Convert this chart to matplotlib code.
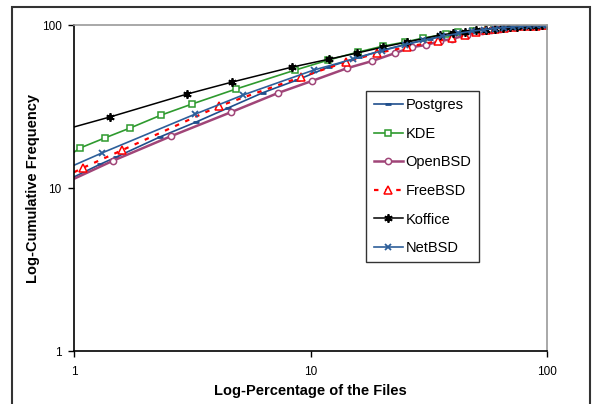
import matplotlib.pyplot as plt
from matplotlib.patches import Rectangle

plt.rcParams['font.family'] = ['Liberation Sans', 'DejaVu Sans']

# cumulative frequency (%) against percentage of files, per project
postgres_x = [1, 1.29, 1.51, 2.31, 3.28, 4.48, 6.3, 8.77, 12.0, 16.0, 20.5, 26.0, 32.0, 38.0, 44.0, 50.0, 56.0, 62.0, 68.0, 74.0, 80.0, 86.0, 92.0, 100]
postgres_y = [11.7, 14.0, 15.5, 20.6, 25.4, 31.0, 38.5, 46.0, 55.5, 63.5, 70.5, 77.0, 82.5, 86.5, 89.8, 92.3, 94.2, 95.7, 96.9, 97.8, 98.6, 99.2, 99.6, 100]

kde_x = [1, 1.06, 1.35, 1.72, 2.33, 3.16, 4.84, 8.6, 11.9, 15.9, 20.3, 25.1, 29.9, 37.4, 42.0, 48.7, 56.3, 62.0, 68.0, 74.0, 80.0, 86.0, 92.0, 100]
kde_y = [16.6, 17.6, 20.3, 23.3, 28.0, 32.8, 40.5, 52.9, 61.0, 68.3, 74.3, 78.7, 83.2, 88.1, 90.6, 91.9, 95.8, 96.8, 97.6, 98.3, 98.9, 99.3, 99.7, 100]

openbsd_x = [1, 1.46, 2.57, 4.61, 7.29, 10.1, 14.3, 18.2, 22.8, 26.9, 30.8, 35.3, 39.6, 45.9, 53.1, 58.0, 63.0, 68.0, 73.0, 78.0, 84.0, 90.0, 95.0, 100]
openbsd_y = [11.4, 14.7, 20.8, 29.2, 38.3, 45.3, 54.4, 60.1, 67.3, 73.3, 75.4, 79.8, 82.1, 86.9, 91.9, 93.5, 95.0, 96.2, 97.2, 98.0, 98.8, 99.3, 99.7, 100]

freebsd_x = [1, 1.09, 1.60, 4.10, 9.12, 14.1, 19.1, 25.6, 34.6, 39.6, 45.0, 50.0, 55.0, 60.0, 66.0, 72.0, 78.0, 84.0, 90.0, 95.0, 100]
freebsd_y = [12.5, 13.3, 17.1, 31.8, 48.0, 59.3, 67.3, 73.3, 79.8, 83.2, 87.5, 90.5, 92.8, 94.6, 96.0, 97.2, 98.1, 98.8, 99.3, 99.7, 100]

koffice_x = [1, 1.42, 3.0, 4.66, 8.35, 12.0, 15.7, 20.3, 25.6, 35.3, 40.0, 45.0, 50.0, 55.0, 60.0, 65.0, 70.0, 75.0, 80.0, 85.0, 90.0, 95.0, 100]
koffice_y = [23.7, 27.3, 37.7, 44.7, 55.2, 61.8, 67.3, 73.3, 78.7, 86.9, 89.0, 91.0, 92.6, 93.9, 95.0, 96.0, 96.8, 97.5, 98.2, 98.8, 99.3, 99.7, 100]

netbsd_x = [1, 1.31, 3.25, 5.18, 10.3, 15.1, 20.0, 25.0, 30.0, 36.0, 42.0, 48.0, 54.0, 60.0, 66.0, 72.0, 78.0, 84.0, 90.0, 95.0, 100]
netbsd_y = [13.8, 16.4, 28.4, 37.2, 52.9, 61.8, 69.5, 75.5, 80.5, 85.2, 88.8, 91.6, 93.6, 95.2, 96.5, 97.5, 98.3, 98.9, 99.4, 99.7, 100]

fig = plt.figure(figsize=(5.92, 4.04), dpi=100)
ax = fig.add_axes([0.125, 0.131, 0.799, 0.807])

# the first point sits on the y axis, so no marker is drawn there
skip = slice(1, None)
ax.plot(postgres_x, postgres_y, color='#1f4e8c', lw=1.2, marker='_', ms=5, mew=2,
        markevery=skip, label='Postgres')
ax.plot(kde_x, kde_y, color='#2e9a2e', lw=1.2, marker='s', ms=5, mfc='white', mew=1.1,
        markevery=skip, label='KDE')
ax.plot(openbsd_x, openbsd_y, color='#a04578', lw=1.8, marker='o', ms=4.5, mfc='white', mew=1.1,
        markevery=skip, label='OpenBSD')
ax.plot(freebsd_x, freebsd_y, color='#ff0000', lw=1.6, ls=(0, (2, 3)), marker='^', ms=5.5, mfc='white',
        mew=1.1, markevery=skip, label='FreeBSD')
ax.plot(koffice_x, koffice_y, color='black', lw=1.1, marker=(6, 2, 0), ms=6, mew=1.3,
        markevery=skip, label='Koffice')
ax.plot(netbsd_x, netbsd_y, color='#2d5f9a', lw=1.2, marker='x', ms=5, mew=1.3,
        markevery=skip, label='NetBSD')

ax.set_xscale('log')
ax.set_yscale('log')
ax.set_xlim(1, 100)
ax.set_ylim(1, 100)
ax.set_xticks([1, 10, 100])
ax.set_xticklabels(['1', '10', '100'])
ax.set_yticks([1, 10, 100])
ax.set_yticklabels(['1', '10', '100'])
ax.minorticks_off()
ax.tick_params(direction='out', length=4, width=1, labelsize=8.5, pad=5)
ax.tick_params(axis='x', pad=7)

for side in ['top', 'right']:
    ax.spines[side].set_color('#999999')
    ax.spines[side].set_linewidth(1.2)
for side in ['left', 'bottom']:
    ax.spines[side].set_linewidth(1.2)

ax.set_xlabel('Log-Percentage of the Files', fontsize=10.5, fontweight='bold', labelpad=4)
ax.set_ylabel('Log-Cumulative Frequency', fontsize=10.5, fontweight='bold', labelpad=1)

leg = ax.legend(loc='upper left', bbox_to_anchor=(0.618, 0.798), fontsize=10.5,
                frameon=True, fancybox=False, edgecolor='black', handlelength=2.0,
                handletextpad=0.2, labelspacing=1.0, borderpad=0.5, borderaxespad=0)
leg.get_frame().set_linewidth(1.0)

# outer chart frame
fig.patches.append(Rectangle((12 / 592, -0.05), 578 / 592, 1 - 7 / 404 + 0.05,
                             transform=fig.transFigure, fill=False,
                             edgecolor='#333333', lw=1.5))

fig.savefig('out.png', dpi=100)
